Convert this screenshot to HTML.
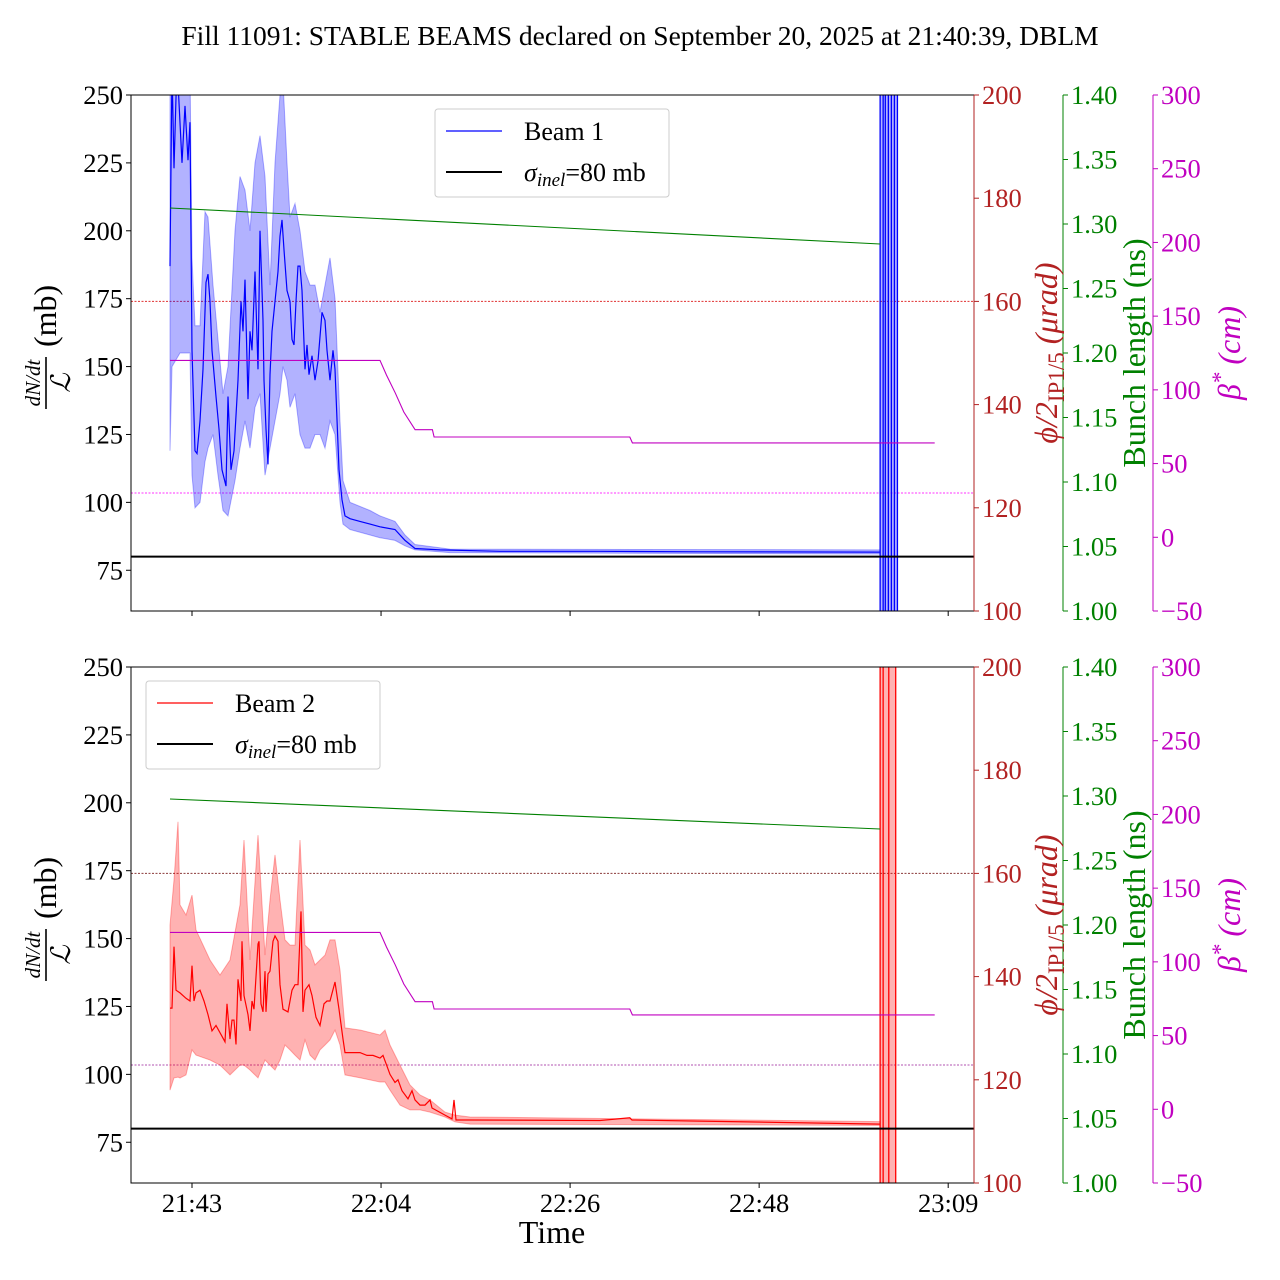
<!DOCTYPE html>
<html><head><meta charset="utf-8">
<style>
html,body{margin:0;padding:0;background:#fff;}
svg{display:block;font-family:"Liberation Serif","DejaVu Serif",serif;}
</style></head>
<body>
<svg id="chart" width="1280" height="1280" viewBox="0 0 1280 1280" xmlns="http://www.w3.org/2000/svg">
<rect width="1280" height="1280" fill="#fff"/>
<text x="640" y="45" font-size="27.5" text-anchor="middle">Fill 11091: STABLE BEAMS declared on September 20, 2025 at 21:40:39, DBLM</text>
<defs>
<clipPath id="clipTop"><rect x="131" y="95" width="843" height="516"/></clipPath>
<clipPath id="clipBot"><rect x="131" y="667" width="843" height="516"/></clipPath>
</defs>
<g id="panelTop"></g>
<g id="panelBot"></g>
</svg>
<script>
// ---- data (time = minutes since 21:40:39) ----
const xTickMin = [2.54, 24.37, 46.2, 68.03, 89.86];
const xTickLabels = ["21:43","22:04","22:26","22:48","23:09"];
const leftTicks = [75,100,125,150,175,200,225,250];
const phiTicks = [100,120,140,160,180,200];
const bunchTicks = [1.00,1.05,1.10,1.15,1.20,1.25,1.30,1.35,1.40];
const betaTicks = [-50,0,50,100,150,200,250,300];

const b1Time = [0,0.23,0.46,0.81,1.39,1.73,2.08,2.31,2.54,2.89,3.12,3.46,3.81,4.16,4.39,4.62,4.85,5.31,5.66,6.0,6.47,6.70,7.04,7.39,7.85,8.2,8.43,8.66,9.01,9.24,9.47,9.82,10.16,10.39,10.74,10.85,11.09,11.32,11.55,11.78,12.12,12.47,12.7,12.93,13.16,13.51,13.86,14.09,14.32,14.55,14.78,15.01,15.24,15.59,15.82,16.05,16.4,16.74,17.09,17.55,17.9,18.13,18.48,18.82,19.05,19.52,19.86,20.21,20.79,21.94,23.09,24.25,25.98,27.14,28.29,31.18,38.1,49.65,61.2,82.0];
const b1Value = [187,260,223,262,225,246,226,240,156,119,118,130,149,181,184,174,156,139,127,112,106,139,112,119,145,174,163,182,138,163,156,185,149,200,167,145,127,114,147,163,174,185,198,204,193,178,174,160,158,174,187,187,178,149,158,147,154,145,152,170,167,156,145,156,149,112,101,95,94,93,92,91,90,86,83,82.5,82,82,81.8,81.7];
const b1BandTime = [0,0.23,1.15,2.31,2.54,2.89,3.46,4.04,4.39,4.97,5.54,6.12,6.70,7.51,8.08,8.66,9.24,9.82,10.39,10.97,11.55,12.12,12.7,13.05,13.51,13.86,14.43,15.01,15.59,16.17,16.74,17.32,17.9,18.48,19.05,19.63,19.98,20.79,23.09,24.25,25.98,27.14,28.29,32.33,82.0];
const b1BandLow = [119,150,155,155,110,98,100,115,120,125,110,97,95,108,120,130,120,135,140,110,120,130,140,150,145,135,140,125,120,120,125,125,120,130,125,100,92,90,88,87,86,84,82.5,81.5,81];
const b1BandHigh = [260,260,260,260,190,165,165,207,205,180,160,140,150,200,220,215,200,225,235,220,180,225,250,255,225,205,210,200,185,180,180,170,180,190,175,130,108,100,97,95,93,88,84.5,82.8,82.5];

const b2Time = [0,0.23,0.46,0.69,1.15,1.85,2.31,2.54,2.77,3.0,3.46,3.93,4.39,4.85,5.31,6.0,6.35,6.58,6.93,7.16,7.39,7.62,7.85,8.2,8.31,8.55,9.01,9.24,9.47,9.7,10.16,10.28,10.51,10.74,10.97,11.09,11.32,11.55,11.89,12.12,12.47,12.7,13.05,13.63,14.09,14.43,14.78,15.13,15.36,15.59,16.05,16.4,16.86,17.32,17.78,18.13,18.48,19.05,19.52,19.98,20.21,20.79,21.94,22.75,23.44,24.25,24.6,25.06,25.4,25.98,26.33,26.79,27.48,27.94,28.29,28.87,29.45,30.02,30.25,31.18,31.76,32.56,32.79,33.03,34.64,49.65,53.1,53.35,61.2,82.0];
const b2Value = [124.4,124.4,147,131,130,128,127,140,127,130,131,127,122,116,118,114,112,126,113,120,120,111,135,127,149,129,122,116,127,124,148,149,126,123,138,123,137,138,149,151,149,133,124,123,131,133,133,160,123,131,133,129,121,118,126,127,127,134,124,113,108,108,108,107,107,106,107,103,100,97,98,94,91,94,90.6,88.7,88.7,90.6,87.6,86,85,83.6,90.6,83.2,83.2,83,84,83.2,82.8,81.7];
const b2BandTime = [0,0.46,0.92,1.15,1.85,2.54,3.0,4.62,5.77,6.93,8.08,8.55,9.24,10.16,10.97,11.55,12.12,12.7,13.28,13.86,14.43,15.01,15.59,16.17,16.74,17.32,17.9,18.48,19.05,19.63,20.21,22.0,24.25,24.83,25.4,26.56,27.71,28.87,30.02,31.76,32.91,34.64,82.0];
const b2BandLow = [94.2,98.7,99,98.7,99.8,109,107.1,105.3,103.4,99.8,103.4,103.4,101.6,98.7,105.3,103.4,101.6,105.3,110.8,109,107.1,105.3,112.7,107.1,105.3,109,110.8,112.7,116.3,110.8,99.8,98.7,97.2,97.2,94.2,88.7,86.9,86.9,86.1,84.3,82.5,81.7,81.2];
const b2BandHigh = [155,171.6,193,162.4,158.7,166,153.2,142.1,136.6,142.1,162.4,186.3,142.1,188.1,143.9,164.2,180.8,164.2,149.5,147.6,147.6,186.3,147.6,145.8,140.3,142.1,143.9,149.5,149.5,138.4,117.1,116.3,114.5,116.3,110.8,103.4,96.1,92.4,90.6,86.1,85,84.3,82.6];

const spikeTimes1 = [82.0,82.35,82.6,82.95,83.3,83.65,84.0];
const spikeTimes2 = [82.0,82.35,83.0,83.8];

const bunchTime1 = [0,82.0];
const bunchValue1 = [1.3124,1.2845];
const bunchTime2 = [0,82.0];
const bunchValue2 = [1.2977,1.2744];
const betaTime = [0,24.25,25.0,26.0,27.0,28.3,30.3,30.5,53.1,53.4,88.3];
const betaValue = [120,120,110,98,85,73,73,68,68,64,64];
const phiLevel = [160];
const betaTarget = [30];
const sigmaInel = [80];

// ---- scales ----
const X0 = 131, X1 = 974;
function xS(t){ return 170 + t*8.66; }
function mk(top){
  const H = 516;
  return {
    top, bot: top+H,
    yL: v => top + (250-v)/190*H,
    yPhi: v => top + (200-v)/100*H,
    yBunch: v => top + (1.4-v)/0.4*H,
    yBeta: v => top + (300-v)/350*H
  };
}
const NS = "http://www.w3.org/2000/svg";
function el(tag, attrs, parent){
  const e = document.createElementNS(NS, tag);
  for (const k in attrs) e.setAttribute(k, attrs[k]);
  parent.appendChild(e);
  return e;
}
function poly(ts, vs, f){ return ts.map((t,i)=>xS(t).toFixed(1)+","+f(vs[i]).toFixed(1)).join(" "); }

function drawPanel(g, s, cfg){
  const clip = el("g", {"clip-path": "url(#"+cfg.clip+")"}, g);
  
  
  const l1 = el("line", {x1:X0, x2:X1, y1:s.yPhi(phiLevel[0]), y2:s.yPhi(phiLevel[0]), stroke:cfg.dot1, "stroke-width":1, "stroke-dasharray":"2,1.5"}, clip);
  
  
  const l2 = el("line", {x1:X0, x2:X1, y1:s.yBeta(betaTarget[0]), y2:s.yBeta(betaTarget[0]), stroke:cfg.dot2, "stroke-width":1, "stroke-dasharray":"2,1.5"}, clip);
  
  
  const up = cfg.bt.map((t,i)=>xS(t).toFixed(1)+","+s.yL(cfg.bh[i]).toFixed(1));
  const lo = cfg.bt.map((t,i)=>xS(t).toFixed(1)+","+s.yL(cfg.bl[i]).toFixed(1)).reverse();
  const band = el("polygon", {points: up.concat(lo).join(" "), fill:cfg.fill, "fill-opacity":0.3, stroke:cfg.fill, "stroke-opacity":0.3}, clip);
  
  
  const sp = cfg.spikes;
  const sr = el("rect", {x:xS(sp[0]), y:s.top, width:xS(sp[sp.length-1])-xS(sp[0]), height:516, fill:cfg.fill, "fill-opacity":0.3}, clip);
  
  
  sp.forEach(t=>{
    const v = el("line", {x1:xS(t), x2:xS(t), y1:s.top, y2:s.bot, stroke:cfg.color, "stroke-width":1.3}, clip);
    
    
  });
  const ml = el("polyline", {points: poly(cfg.t, cfg.v, s.yL), fill:"none", stroke:cfg.color, "stroke-width":1.2}, clip);
  
  
  const bl = el("polyline", {points: poly(cfg.bunT, cfg.bunV, s.yBunch), fill:"none", stroke:"#008000", "stroke-width":1.1}, clip);
  
  
  const be = el("polyline", {points: poly(betaTime, betaValue, s.yBeta), fill:"none", stroke:"#c000c0", "stroke-width":1.1}, clip);
  
  
  const si = el("line", {x1:X0, x2:X1, y1:s.yL(sigmaInel[0]), y2:s.yL(sigmaInel[0]), stroke:"#000", "stroke-width":2}, clip);
  
  
  const fr = el("rect", {x:X0, y:s.top, width:X1-X0, height:516, fill:"none", stroke:"#000", "stroke-width":1}, g);
  
  
  el("line", {x1:X1, x2:X1, y1:s.top, y2:s.bot, stroke:"#b22222", "stroke-width":1}, g);
  leftTicks.forEach(v=>{
    const y = s.yL(v);
    el("line", {x1:X0-5, x2:X0, y1:y, y2:y, stroke:"#000"}, g);
    const tx = el("text", {x:X0-8, y:y+9, "font-size":26.5, "text-anchor":"end"}, g);
    tx.textContent = v;
    
    
  });
  xTickMin.forEach((t,i)=>{
    const x = xS(t);
    el("line", {x1:x, x2:x, y1:s.bot, y2:s.bot+5, stroke:"#000"}, g);
    if (cfg.showX){
      const tx = el("text", {x:x, y:s.bot+29, "font-size":26.5, "text-anchor":"middle"}, g);
      tx.textContent = xTickLabels[i];
      
      
    }
  });
  const axes = [
    {x:974, ticks:phiTicks, f:s.yPhi, col:"#b22222", fmt:v=>String(v), name:'phi-axis'},
    {x:1063, ticks:bunchTicks, f:s.yBunch, col:"#008000", fmt:v=>v.toFixed(2), name:'bunch-length-axis'},
    {x:1153, ticks:betaTicks, f:s.yBeta, col:"#c000c0", fmt:v=>(v<0?"\u2212"+Math.abs(v):String(v)), name:'beta-star-axis'}
  ];
  axes.forEach(a=>{
    const sp = el("line", {x1:a.x, x2:a.x, y1:s.top, y2:s.bot, stroke:a.col, "stroke-width":1}, g);
    
    
    a.ticks.forEach(v=>{
      const y = a.f(v);
      el("line", {x1:a.x, x2:a.x+5, y1:y, y2:y, stroke:a.col}, g);
      const tx = el("text", {x:a.x+8, y:y+9, "font-size":26.5, fill:a.col}, g);
      tx.textContent = a.fmt(v);
      
      
    });
  });
  const cy = s.top + 258;
  const ll = el("g", {transform:"translate(46,"+cy+") rotate(-90)"}, g);
  
  
  let t = el("text", {x:-30, y:-6, "font-size":21, "font-style":"italic", "text-anchor":"middle"}, ll); t.textContent = "dN/dt";
  el("line", {x1:-56, x2:-4, y1:0, y2:0, stroke:"#000", "stroke-width":1.6}, ll);
  t = el("text", {x:-30, y:24, "font-size":27, "font-style":"italic", "text-anchor":"middle"}, ll); t.textContent = "\u2112";
  t = el("text", {x:6, y:10, "font-size":32}, ll); t.textContent = "(mb)";
  const pl = el("text", {transform:"translate(1057,"+cy+") rotate(-90)", "font-size":32, fill:"#b22222", "text-anchor":"middle"}, g);
  
  
  pl.innerHTML = '<tspan font-style="italic">\u03d5/2</tspan><tspan font-size="23" dy="7">IP1/5</tspan><tspan dy="-7" font-style="italic"> (\u03bcrad)</tspan>';
  const gl = el("text", {transform:"translate(1145,"+cy+") rotate(-90)", "font-size":32, fill:"#008000", "text-anchor":"middle"}, g);
  gl.textContent = "Bunch length (ns)";
  
  
  const bt = el("text", {transform:"translate(1240,"+cy+") rotate(-90)", "font-size":32, fill:"#c000c0", "text-anchor":"middle", "font-style":"italic"}, g);
  bt.innerHTML = '\u03b2<tspan font-size="23" dy="-12">*</tspan><tspan dy="12"> (cm)</tspan>';
  
  
  const lg = el("g", {}, g);
  
  
  const L = cfg.legend;
  el("rect", {x:L.x, y:L.y, width:234, height:88, rx:3, fill:"#fff", "fill-opacity":0.8, stroke:"#ccc"}, lg);
  el("line", {x1:L.x+11, x2:L.x+67, y1:L.y+22, y2:L.y+22, stroke:cfg.color, "stroke-width":1.2}, lg);
  t = el("text", {x:L.x+89, y:L.y+31, "font-size":26}, lg); t.textContent = cfg.label;
  el("line", {x1:L.x+11, x2:L.x+67, y1:L.y+63, y2:L.y+63, stroke:"#000", "stroke-width":2}, lg);
  t = el("text", {x:L.x+89, y:L.y+72, "font-size":26}, lg);
  t.innerHTML = '<tspan font-style="italic">\u03c3</tspan><tspan font-style="italic" font-size="19" dy="5">inel</tspan><tspan dy="-5">=80 mb</tspan>';
}

const sTop = mk(95), sBot = mk(667);
drawPanel(document.getElementById("panelTop"), sTop, {
  clip:"clipTop", prefix:"beam1", color:"#0000ff", fill:"#0000ff", t:b1Time, v:b1Value,
  bt:b1BandTime, bl:b1BandLow, bh:b1BandHigh, spikes:spikeTimes1,
  bunT:bunchTime1, bunV:bunchValue1, dot1:"#e03030", dot2:"#ff33ff",
  showX:false, legend:{x:435,y:109}, label:"Beam 1"
});
drawPanel(document.getElementById("panelBot"), sBot, {
  clip:"clipBot", prefix:"beam2", color:"#ff0000", fill:"#ff0000", t:b2Time, v:b2Value,
  bt:b2BandTime, bl:b2BandLow, bh:b2BandHigh, spikes:spikeTimes2,
  bunT:bunchTime2, bunV:bunchValue2, dot1:"#8b3a3a", dot2:"#b050b0",
  showX:true, legend:{x:146,y:681}, label:"Beam 2"
});
const xt = el("text", {x:552, y:1243, "font-size":32, "text-anchor":"middle"}, document.getElementById("chart"));
xt.textContent = "Time";


</script>
</body></html>
